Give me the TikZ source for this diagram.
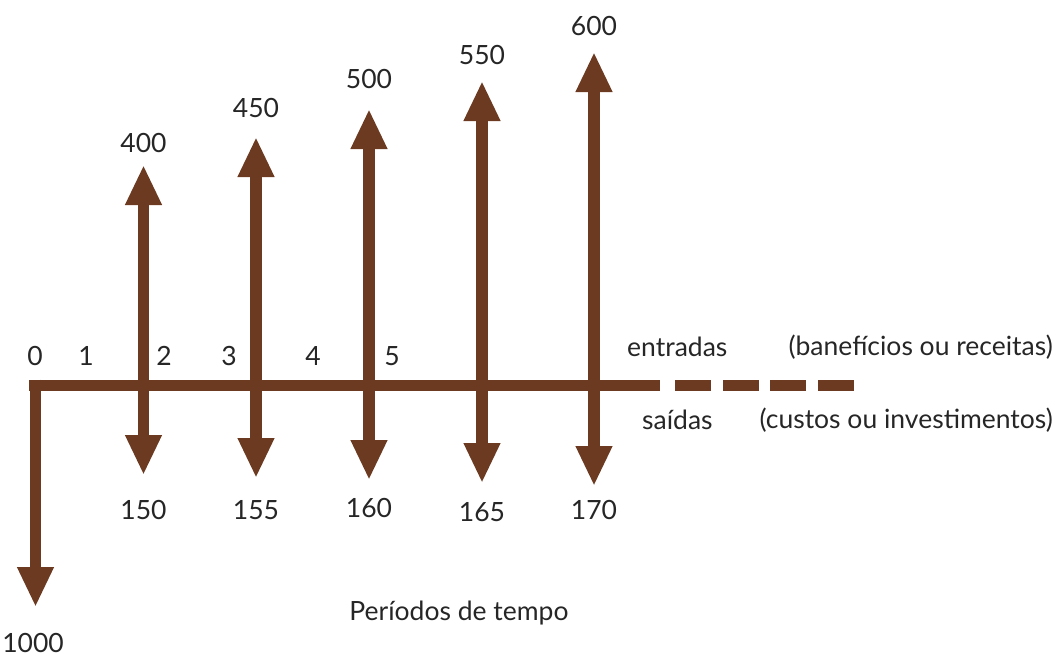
\documentclass[tikz,border=0pt]{standalone}
\usepackage{fontspec}
\setmainfont{Lato}
\usetikzlibrary{arrows.meta}
\definecolor{fluxo}{RGB}{108,58,33}
\tikzset{
  haste/.style={draw=fluxo, line width=11.5pt, line cap=butt,
    -{Triangle[width=34pt,length=40pt]}},
  eixo/.style={draw=fluxo, line width=11pt, line cap=butt},
  rotulo/.style={text=black!85, font=\fontsize{26.5}{30}\selectfont, inner sep=0pt}
}
\begin{document}
\begin{tikzpicture}[x=1pt, y=-1pt]
    % Canvas
    \useasboundingbox (0,0) rectangle (1059,657);

    % Time axis
    \coordinate (o) at (29,385);
    \coordinate (fim) at (660,385);
    \draw[eixo] (o) -- (fim);
    \foreach \a/\b in {675/711, 723/759, 770/806, 818/854}
      \draw[eixo] (\a,385) -- (\b,385);

    % Investment at time 0
    \coordinate (p0) at (35.5,379.5);
    \coordinate (d0) at (35.5,607);
    \draw[haste] (p0) -- (d0);
    \node[rotulo] (v1000) at (33,643) {1000};

    % Cash flows: index / x / tip up / tip down / label up / label down / values
    \foreach \i/\x/\up/\dn/\lu/\ld/\vu/\vd in {
        2/143.5/165/475/143/510/400/150,
        3/256/137/478/108/510/450/155,
        4/369/109/480/79/508/500/160,
        5/482/81/483/55/512/550/165,
        6/594/52/486/26/510/600/170} {
      \coordinate (p\i) at (\x,385);
      \coordinate (u\i) at (\x,\up);
      \coordinate (d\i) at (\x,\dn);
      \draw[haste] (p\i) -- (u\i);
      \draw[haste] (p\i) -- (d\i);
      \node[rotulo] (e\i) at (\x,\lu) {\vu};
      \node[rotulo] (s\i) at (\x,\ld) {\vd};
    }

    % Period numbers
    \node[rotulo] (t0) at (35,356) {0};
    \node[rotulo] (t1) at (86,356) {1};
    \node[rotulo] (t2) at (164,356) {2};
    \node[rotulo] (t3) at (229,356) {3};
    \node[rotulo] (t4) at (313,356) {4};
    \node[rotulo] (t5) at (392,356) {5};

    % Legend
    \node[rotulo, anchor=west] (ent) at (627,347) {entradas};
    \node[rotulo, anchor=east] (ben) at (1053,347) {(banefícios ou receitas)};
    \node[rotulo, anchor=west] (sai) at (642,420) {saídas};
    \node[rotulo, anchor=east] (cus) at (1053,420) {(custos ou investimentos)};
    \node[rotulo] (per) at (459,613) {Períodos de tempo};
\end{tikzpicture}
\end{document}
